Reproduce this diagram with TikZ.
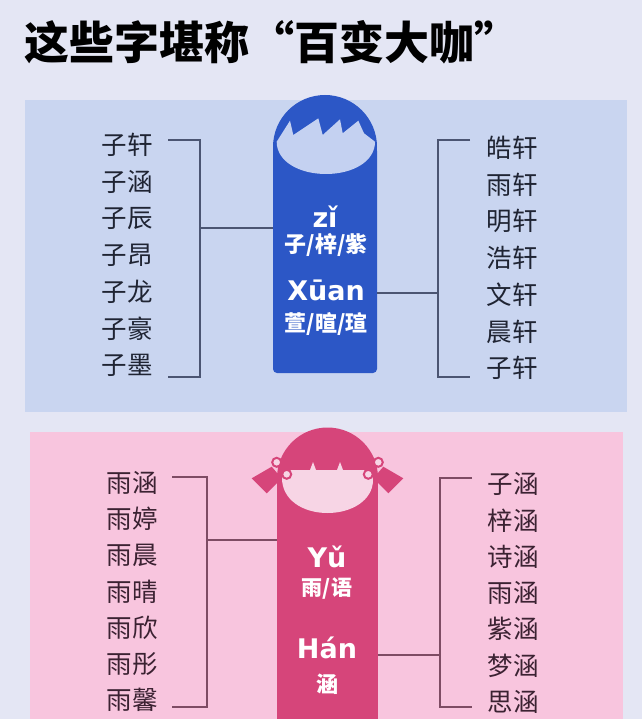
\documentclass[tikz,border=0pt]{standalone}
\usepackage{fontspec}
\setmainfont{DejaVu Sans}
\newfontfamily\cjk{Noto Sans CJK SC}
\definecolor{bg}{HTML}{E4E6F4}
\definecolor{bluepanel}{HTML}{C9D5F0}
\definecolor{pinkpanel}{HTML}{F8C5DE}
\definecolor{bluebody}{HTML}{2C57C6}
\definecolor{blueface}{HTML}{C4D1F1}
\definecolor{pinkbody}{HTML}{D6457A}
\definecolor{pinkface}{HTML}{F7D5E5}
\definecolor{bluelink}{HTML}{4B5572}
\definecolor{pinklink}{HTML}{7E4C64}
\definecolor{inkblue}{HTML}{1F2433}
\definecolor{inkpink}{HTML}{3B2232}
\begin{document}
\begin{tikzpicture}[x=1pt,y=-1pt,
  item/.style={font=\cjk\fontsize{25.5}{25.5}\selectfont, inner sep=0pt, anchor=center},
  pin/.style={font=\bfseries\fontsize{27}{27}\selectfont, text=white, inner sep=0pt, anchor=base},
  han/.style={font=\cjk\bfseries\fontsize{22}{22}\selectfont, text=white, inner sep=0pt, anchor=base},
  blink/.style={draw=bluelink, line width=1.4pt},
  plink/.style={draw=pinklink, line width=1.4pt}]
\useasboundingbox (0,0) rectangle (642,719);
\fill[bg] (0,0) rectangle (642,719);
\fill[bluepanel] (25,100) rectangle (627,412);
\fill[pinkpanel] (30,432) rectangle (623,719);

% title
\node[font=\cjk\bfseries\fontsize{45}{45}\selectfont, anchor=base west, inner sep=0pt] (title) at (24,60) {这些字堪称“百变大咖”};

% blue bookmark
\fill[bluebody] (325,147) circle (52);
\fill[bluebody, rounded corners=4] (273,147) rectangle (377,373);
\fill[blueface] (276.7,141.7) -- (290,120.7) -- (293.3,135) -- (318.3,118.3) -- (322.7,135) -- (340,119.3) -- (342.7,133.3) -- (358.3,120.7) -- (364,133.3) -- (375,141.7) .. controls (375,162) and (352,174) .. (326,174) .. controls (300,174) and (276.7,162) .. (276.7,141.7) -- cycle;
\node[pin] (zi) at (325,227) {zǐ};
\node[han] (zihan) at (326,252.5) {子/梓/紫};
\node[pin] (xuan) at (326,300) {Xūan};
\node[han] (xuanhan) at (326,331.5) {萱/暄/瑄};

% pink bookmark
\fill[pinkbody] (327.5,478) circle (50.5);
\fill[pinkbody] (277,478) rectangle (378,725);
\fill[pinkbody] (271.7,466.7) -- (251.7,478.3) -- (266.7,493.3) -- (281.7,478.3) -- cycle;
\fill[pinkbody] (383.3,466.7) -- (403.3,478.3) -- (388.3,493.3) -- (373.3,478.3) -- cycle;
\fill[pinkface] (282,478) .. controls (282,471) and (286,470) .. (292,470) -- (310,470) -- (313,462) -- (316,470) -- (337,470) -- (340,462) -- (343,470) -- (363,470) .. controls (369,470) and (373,472) .. (373,480) .. controls (373,500) and (352,513) .. (327.5,513) .. controls (303,513) and (282,500) .. (282,478) -- cycle;
\foreach \p in {(276.7,462.3),(286.7,474.3),(378.3,462.3),(368.3,474.3)}
  \filldraw[fill=pinkface, draw=pinkbody, line width=2pt] \p circle (4.5);
\node[pin] (yu) at (327,567) {Yǔ};
\node[han, font=\cjk\bfseries\fontsize{21}{21}\selectfont] (yuhan) at (327,595) {雨/语};
\node[pin] (han) at (327,658) {Hán};
\node[han] (hanhan) at (327,692) {涵};

% lists
\foreach \t [count=\i from 0] in {子轩,子涵,子辰,子昂,子龙,子豪,子墨}
  \node[item, text=inkblue] (bl\i) at (127,{145+\i*36.8}) {\t};
\foreach \t [count=\i from 0] in {皓轩,雨轩,明轩,浩轩,文轩,晨轩,子轩}
  \node[item, text=inkblue] (br\i) at (512,{148+\i*36.7}) {\t};
\foreach \t [count=\i from 0] in {雨涵,雨婷,雨晨,雨晴,雨欣,雨彤,雨馨}
  \node[item, text=inkpink] (pl\i) at (132,{483+\i*36.2}) {\t};
\foreach \t [count=\i from 0] in {子涵,梓涵,诗涵,雨涵,紫涵,梦涵,思涵}
  \node[item, text=inkpink] (pr\i) at (513,{484+\i*36.3}) {\t};

% connector coordinates
\coordinate (blT) at (168,140); \coordinate (blTc) at (200,140);
\coordinate (blB) at (168,377); \coordinate (blBc) at (200,377);
\coordinate (blM) at (200,228); \coordinate (bodyL) at (273,228);
\coordinate (brT) at (470,140); \coordinate (brTc) at (438,140);
\coordinate (brB) at (470,377); \coordinate (brBc) at (438,377);
\coordinate (brM) at (438,293); \coordinate (bodyR) at (377,293);
\coordinate (plT) at (172,477); \coordinate (plTc) at (207,477);
\coordinate (plB) at (172,707); \coordinate (plBc) at (207,707);
\coordinate (plM) at (207,540); \coordinate (pbodyL) at (277,540);
\coordinate (prT) at (472,478); \coordinate (prTc) at (440,478);
\coordinate (prB) at (472,707); \coordinate (prBc) at (440,707);
\coordinate (prM) at (440,655); \coordinate (pbodyR) at (378,655);

\draw[blink] (blT) -- (blTc) -- (blBc) -- (blB);
\draw[blink] (blM) -- (bodyL);
\draw[blink] (brT) -- (brTc) -- (brBc) -- (brB);
\draw[blink] (bodyR) -- (brM);
\draw[plink] (plT) -- (plTc) -- (plBc) -- (plB);
\draw[plink] (plM) -- (pbodyL);
\draw[plink] (prT) -- (prTc) -- (prBc) -- (prB);
\draw[plink] (pbodyR) -- (prM);
\end{tikzpicture}
\end{document}
